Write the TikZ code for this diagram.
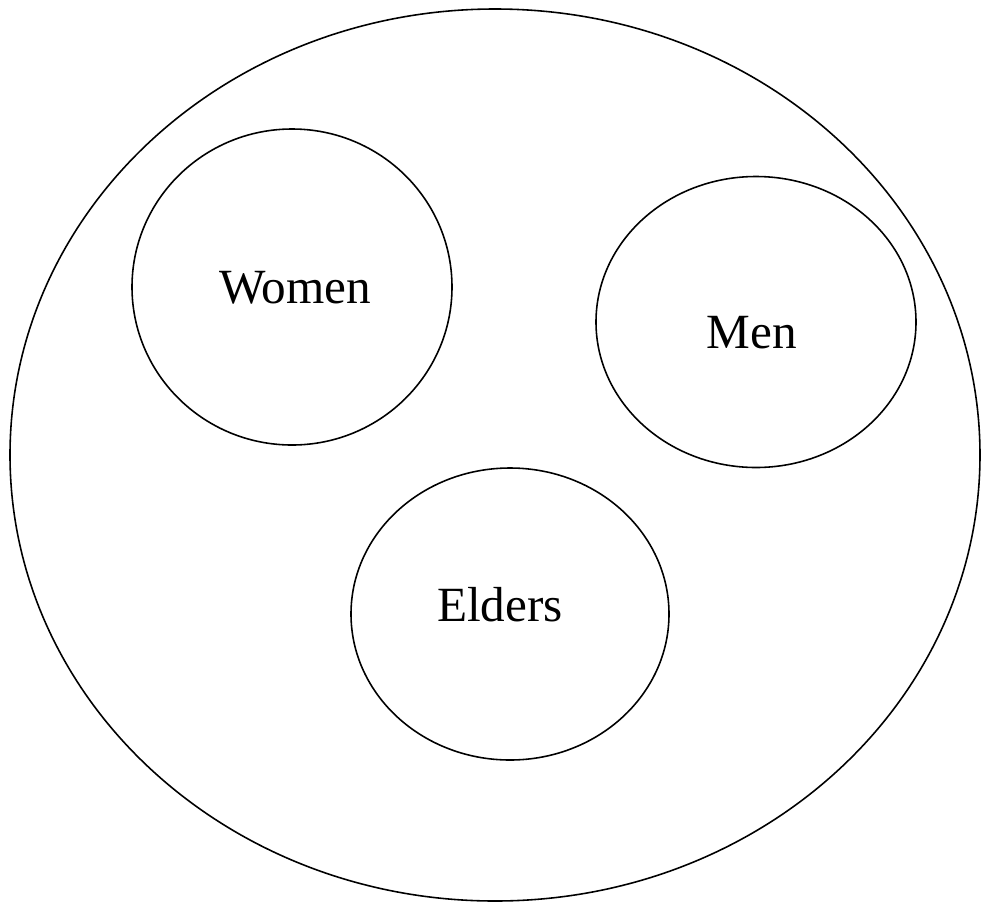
\documentclass[tikz,border=0pt]{standalone}
\usepackage{fontspec}
\setmainfont{Liberation Serif}
\usetikzlibrary{shapes.geometric}

\tikzset{
  groupe/.style={ellipse, draw=black, line width=0.9pt, inner sep=0pt},
  nom/.style={anchor=base, font=\fontsize{28}{31}\selectfont}
}

\begin{document}
\begin{tikzpicture}
                \useasboundingbox (0, 0) rectangle (19.62, -18.06);

                \coordinate (C0) at (9.9, -9.1);
                \coordinate (CW) at (5.84, -5.74);
                \coordinate (CM) at (15.12, -6.44);
                \coordinate (CE) at (10.2, -12.28);

                % Communaute
                \node[groupe, minimum width=19.4cm, minimum height=17.84cm] (village) at (C0) {};

                % Groupes
                \node[groupe, minimum width=6.4cm, minimum height=6.32cm] (women) at (CW) {};
                \node[groupe, minimum width=6.4cm, minimum height=5.82cm] (men) at (CM) {};
                \node[groupe, minimum width=6.36cm, minimum height=5.84cm] (elders) at (CE) {};

                % Noms
                \node[nom] (womentxt) at ([xshift=0.06cm, yshift=-0.32cm]women.center) {Women};
                \node[nom] (mentxt) at ([xshift=-0.08cm, yshift=-0.52cm]men.center) {Men};
                \node[nom] (elderstxt) at ([xshift=-0.2cm, yshift=-0.14cm]elders.center) {Elders};
            \end{tikzpicture}
\end{document}
